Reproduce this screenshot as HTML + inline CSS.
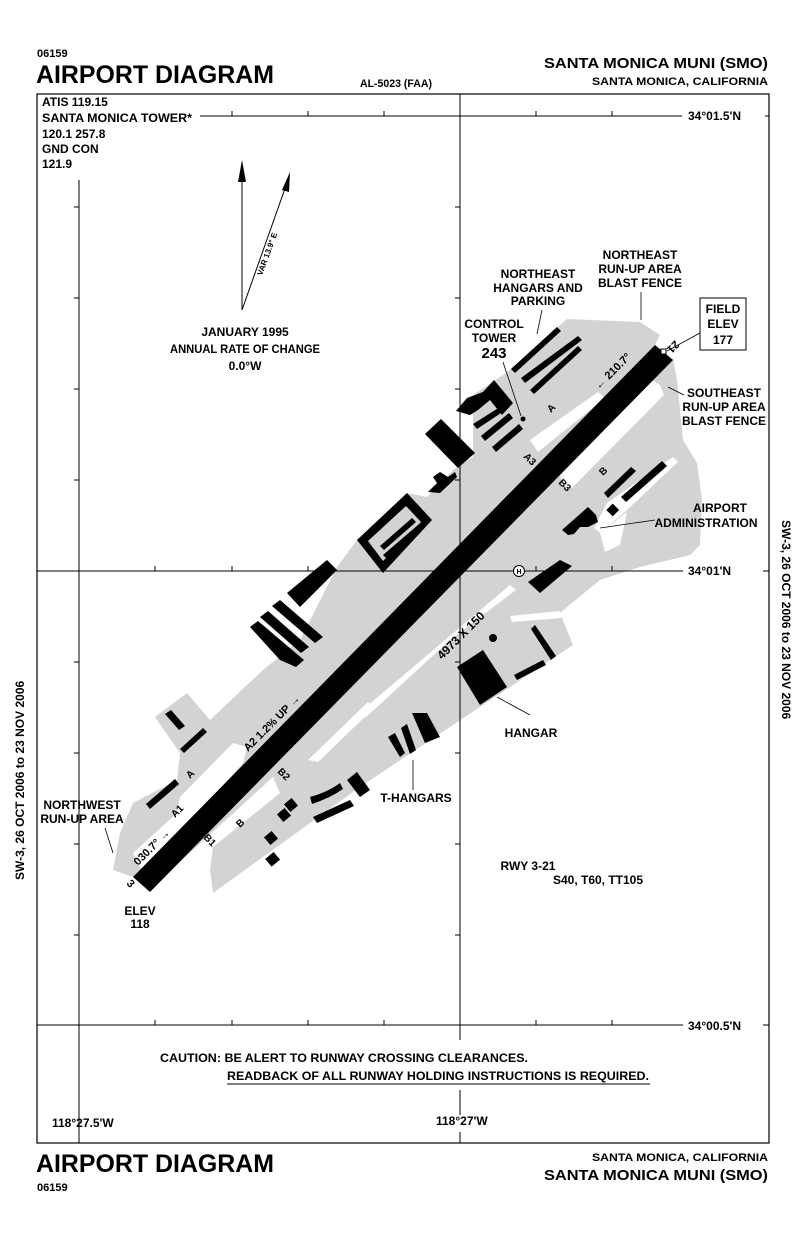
<!DOCTYPE html>
<html><head><meta charset="utf-8"><style>
html,body{margin:0;padding:0;background:#fff;}
svg{display:block;font-family:"Liberation Sans",sans-serif;}
text{fill:#000;}
.l{font-weight:bold;}
</style></head><body>
<svg width="806" height="1237" viewBox="0 0 806 1237" xmlns="http://www.w3.org/2000/svg">
<text x="37" y="57" font-size="11" class="l">06159</text>
<text x="36" y="83" font-size="25" class="l" textLength="238" lengthAdjust="spacingAndGlyphs">AIRPORT DIAGRAM</text>
<text x="360" y="87" font-size="11" class="l" textLength="72" lengthAdjust="spacingAndGlyphs">AL-5023 (FAA)</text>
<text x="768" y="68" font-size="15" class="l" text-anchor="end" textLength="224" lengthAdjust="spacingAndGlyphs">SANTA MONICA MUNI (SMO)</text>
<text x="768" y="85" font-size="11" class="l" text-anchor="end" textLength="176" lengthAdjust="spacingAndGlyphs">SANTA MONICA, CALIFORNIA</text>
<!-- grey areas -->
<polygon fill="#d3d3d3" points="640,322 567,319 506,373 473,395 473,457 453,470 427,497 407,493 357,540 337,567 300,640 263,670 210,720 187,693 155,717 180,753 177,780 133,803 120,833 113,870 133,877 655,345 660,335"/>
<polygon fill="#d3d3d3" points="673,358 677,380 683,440 697,463 702,500 700,545 690,555 640,567 600,580 567,607 560,613 573,645 360,787 213,893 210,870 150,892"/>
<!-- white gaps -->
<g fill="#fff">
<polygon points="560,475 652,380 660,385 664,395 572,488 564,486"/>
<polygon points="530,440 598,392 605,398 538,452"/>
<polygon points="607,503 673,457 678,462 627,510 600,533 594,528"/>
<polygon points="600,533 627,512 620,545 605,552"/>
<polygon points="510,585 516,590 450,640 365,718 360,712"/>
<polygon points="510,616 560,611 562,618 512,622"/>
<polygon points="368,702 374,708 318,762 308,760"/>
<polygon points="140,867 133,853 177,813 180,797 233,743 247,747 243,763 145,872"/>
<polygon points="150,892 213,893 210,870 213,847 280,793 273,777 180,862"/>
</g>
<!-- frame -->
<rect x="37" y="94" width="732" height="1049" fill="none" stroke="#000" stroke-width="1.2"/>
<g stroke="#000" stroke-width="1">
<line x1="460" y1="94" x2="460" y2="1143"/>
<line x1="79" y1="180" x2="79" y2="1143"/>
<line x1="37" y1="571" x2="769" y2="571"/>
<line x1="37" y1="1025" x2="769" y2="1025"/>
<line x1="200" y1="116" x2="682" y2="116"/>
<line x1="765" y1="116" x2="769" y2="116"/>
<line x1="232" y1="111" x2="232" y2="116"/><line x1="308" y1="111" x2="308" y2="116"/><line x1="384" y1="111" x2="384" y2="116"/>
<line x1="536" y1="111" x2="536" y2="116"/><line x1="612" y1="111" x2="612" y2="116"/>
<line x1="155" y1="1020" x2="155" y2="1025"/><line x1="232" y1="1020" x2="232" y2="1025"/><line x1="308" y1="1020" x2="308" y2="1025"/><line x1="384" y1="1020" x2="384" y2="1025"/>
<line x1="536" y1="1020" x2="536" y2="1025"/><line x1="612" y1="1020" x2="612" y2="1025"/>
<line x1="155" y1="566" x2="155" y2="571"/><line x1="232" y1="566" x2="232" y2="571"/><line x1="308" y1="566" x2="308" y2="571"/><line x1="384" y1="566" x2="384" y2="571"/>
<line x1="536" y1="566" x2="536" y2="571"/><line x1="612" y1="566" x2="612" y2="571"/><line x1="688" y1="566" x2="688" y2="571"/>
<line x1="74" y1="207" x2="79" y2="207"/><line x1="74" y1="298" x2="79" y2="298"/><line x1="74" y1="389" x2="79" y2="389"/><line x1="74" y1="480" x2="79" y2="480"/>
<line x1="74" y1="662" x2="79" y2="662"/><line x1="74" y1="753" x2="79" y2="753"/><line x1="74" y1="844" x2="79" y2="844"/><line x1="74" y1="935" x2="79" y2="935"/>
<line x1="455" y1="207" x2="460" y2="207"/><line x1="455" y1="298" x2="460" y2="298"/><line x1="455" y1="389" x2="460" y2="389"/><line x1="455" y1="480" x2="460" y2="480"/>
<line x1="455" y1="662" x2="460" y2="662"/><line x1="455" y1="753" x2="460" y2="753"/><line x1="455" y1="844" x2="460" y2="844"/><line x1="455" y1="935" x2="460" y2="935"/>
</g>
<rect x="150" y="1040" width="520" height="50" fill="#fff"/>
<rect x="440" y="1098" width="60" height="34" fill="#fff"/>
<line x1="460" y1="1090" x2="460" y2="1115" stroke="#000"/>
<g font-size="12" class="l">
<text x="42" y="106">ATIS 119.15</text>
<text x="42" y="122" textLength="150" lengthAdjust="spacingAndGlyphs">SANTA MONICA TOWER*</text>
<text x="42" y="138">120.1  257.8</text>
<text x="42" y="153">GND CON</text>
<text x="42" y="168">121.9</text>
</g>
<rect x="683" y="108" width="80" height="14" fill="#fff"/>
<text x="688" y="120" font-size="12" class="l">34°01.5'N</text>
<rect x="683" y="563" width="80" height="14" fill="#fff"/>
<text x="688" y="575" font-size="12" class="l">34°01'N</text>
<rect x="683" y="1017" width="80" height="14" fill="#fff"/>
<text x="688" y="1030" font-size="12" class="l">34°00.5'N</text>
<text x="52" y="1127" font-size="12" class="l">118°27.5'W</text>
<text x="436" y="1125" font-size="12" class="l">118°27'W</text>
<text x="160" y="1062" font-size="12" class="l" textLength="368" lengthAdjust="spacingAndGlyphs">CAUTION: BE ALERT TO RUNWAY CROSSING CLEARANCES.</text>
<text x="227" y="1080" font-size="12" class="l" textLength="422" lengthAdjust="spacingAndGlyphs">READBACK OF ALL RUNWAY HOLDING INSTRUCTIONS IS REQUIRED.</text>
<line x1="227" y1="1084" x2="650" y2="1084" stroke="#000"/>
<text transform="translate(24,880) rotate(-90)" font-size="12" font-weight="bold">SW-3, 26 OCT 2006 to 23 NOV 2006</text>
<text transform="translate(782,520) rotate(90)" font-size="12" font-weight="bold">SW-3, 26 OCT 2006 to 23 NOV 2006</text>
<text x="36" y="1172" font-size="25" class="l" textLength="238" lengthAdjust="spacingAndGlyphs">AIRPORT DIAGRAM</text>
<text x="37" y="1191" font-size="11" class="l">06159</text>
<text x="768" y="1161" font-size="11" class="l" text-anchor="end" textLength="176" lengthAdjust="spacingAndGlyphs">SANTA MONICA, CALIFORNIA</text>
<text x="768" y="1180" font-size="15" class="l" text-anchor="end" textLength="224" lengthAdjust="spacingAndGlyphs">SANTA MONICA MUNI (SMO)</text>
<!-- north arrows -->
<line x1="242" y1="180" x2="242" y2="310" stroke="#000"/>
<polygon points="242,160 238,182 246,182" fill="#000"/>
<line x1="242" y1="310" x2="288" y2="180" stroke="#000"/>
<polygon points="290,172 282,190 289,192" fill="#000"/>
<text transform="translate(262,276) rotate(-70)" font-size="8" class="l">VAR 13.9° E</text>
<g font-size="12" class="l" text-anchor="middle">
<text x="245" y="336">JANUARY 1995</text>
<text x="245" y="353" textLength="150" lengthAdjust="spacingAndGlyphs">ANNUAL RATE OF CHANGE</text>
<text x="245" y="370">0.0°W</text>
</g>
<!-- runway -->
<polygon fill="#000" points="133,877 655,345 673,360 150,892"/>
<rect x="661" y="349" width="5" height="5" fill="#fff" stroke="#000"/>
<!-- buildings -->
<g fill="#000">
<polygon points="511,369 557,327 561,331 515,373"/>
<polygon points="521,378 578,336 582,340 525,383"/>
<polygon points="530,390 578,346 582,350 534,394"/>
<polygon points="456,411 467,398 483,392 494,380 513,403 502,415 490,400 478,410 470,415"/>
<polygon points="473,424 500,407 504,411 477,429"/>
<polygon points="481,436 509,413 513,418 485,441"/>
<polygon points="492,447 519,424 523,429 496,452"/>
<polygon points="425,434 441,419 475,453 458,468"/>
<polygon points="428,492 437,483 433,477 440,472 448,477 455,472 457,477 440,493"/>
<polygon points="357,540 407,493 432,520 383,573"/>
<polygon points="287,593 327,560 337,570 300,607"/>
<polygon points="272,606 280,600 323,637 315,643"/>
<polygon points="260,617 268,611 309,647 301,653"/>
<polygon points="250,627 258,621 304,660 296,667 280,660"/>
<polygon points="165,714 171,710 185,726 179,730"/>
<polygon points="180,749 203,728 207,732 184,753"/>
<polygon points="146,804 175,779 179,784 150,809"/>
<polygon points="604,493 631,467 636,471 608,498"/>
<polygon points="621,497 662,461 667,466 626,502"/>
<rect x="608" y="506" width="9" height="9" transform="rotate(-45 612 510)"/>
<polygon points="562,530 588,507 596,515 598,522 588,527 580,527 574,534 568,535"/>
<polygon points="528,582 560,560 572,566 540,593"/>
<polygon points="457,667 483,650 507,687 480,705"/>
<polygon points="531,629 535,625 556,656 551,660"/>
<polygon points="514,675 543,660 546,665 517,680"/>
<circle cx="493" cy="638" r="4"/>
<polygon points="388,737 395,733 405,753 400,757"/>
<polygon points="401,728 407,724 416,750 410,754"/>
<polygon points="412,713 427,713 440,737 425,743"/>
<path d="M310,797 Q328,792 340,783 L343,789 Q330,798 312,804 Z"/>
<polygon points="313,817 350,800 354,806 317,823"/>
<polygon points="347,780 357,772 370,790 360,797"/>
<rect x="286" y="800" width="10" height="10" transform="rotate(-40 291 805)"/>
<rect x="279" y="810" width="10" height="10" transform="rotate(-40 284 815)"/>
<rect x="266" y="833" width="10" height="10" transform="rotate(-40 271 838)"/>
<rect x="267" y="854" width="11" height="10" transform="rotate(-40 273 859)"/>
<circle cx="523" cy="419" r="2.5"/>
</g>
<polygon fill="#d3d3d3" points="368,541 406,506 421,522 383,561"/>
<g fill="#000">
<polygon points="380,546 412,518 416,522 384,550"/>
<polygon points="383,555 418,525 422,529 387,559"/>
</g>
<!-- runway labels -->
<text transform="translate(442,660) rotate(-45)" font-size="12" class="l">4973 X 150</text>
<text transform="translate(248,752) rotate(-45)" font-size="11" class="l">A2  1.2% UP →</text>
<text transform="translate(138,866) rotate(-45)" font-size="11" class="l">030.7° →</text>
<text transform="translate(599,390) rotate(-45)" font-size="11" class="l">← 210.7°</text>
<text transform="translate(675,340) rotate(135)" font-size="11" class="l">21</text>
<text transform="translate(126,884) rotate(45)" font-size="11" class="l">3</text>
<g font-size="10" class="l">
<text transform="translate(551,413) rotate(-45)">A</text>
<text transform="translate(523,457) rotate(45)">A3</text>
<text transform="translate(558,483) rotate(45)">B3</text>
<text transform="translate(603,476) rotate(-45)">B</text>
<text transform="translate(277,772) rotate(45)">B2</text>
<text transform="translate(190,779) rotate(-45)">A</text>
<text transform="translate(175,818) rotate(-45)">A1</text>
<text transform="translate(203,838) rotate(45)">B1</text>
<text transform="translate(240,828) rotate(-45)">B</text>
</g>
<circle cx="519" cy="571" r="5.5" fill="#fff" stroke="#000"/>
<text x="519" y="574" font-size="7" text-anchor="middle" class="l">H</text>
<g font-size="12" text-anchor="middle" class="l">
<text x="494" y="328">CONTROL</text><text x="494" y="342">TOWER</text>
<text x="494" y="358" font-size="15">243</text>
<text x="538" y="278">NORTHEAST</text><text x="538" y="292">HANGARS AND</text><text x="538" y="305">PARKING</text>
<text x="640" y="259">NORTHEAST</text><text x="640" y="273">RUN-UP AREA</text><text x="640" y="287">BLAST FENCE</text>
<text x="724" y="397">SOUTHEAST</text><text x="724" y="411">RUN-UP AREA</text><text x="724" y="425">BLAST FENCE</text>
<text x="720" y="512">AIRPORT</text><text x="706" y="527">ADMINISTRATION</text>
<text x="82" y="809">NORTHWEST</text><text x="82" y="823">RUN-UP AREA</text>
<text x="140" y="915">ELEV</text><text x="140" y="928">118</text>
<text x="531" y="737">HANGAR</text>
<text x="416" y="802">T-HANGARS</text>
<text x="528" y="870">RWY 3-21</text>
<text x="598" y="884">S40, T60,  TT105</text>
</g>
<rect x="700" y="298" width="46" height="52" fill="#fff" stroke="#000"/>
<g font-size="12" text-anchor="middle" class="l">
<text x="723" y="313">FIELD</text>
<text x="723" y="328">ELEV</text>
<text x="723" y="344">177</text>
</g>
<g stroke="#000" fill="none" stroke-width="0.8">
<line x1="700" y1="333" x2="667" y2="351"/>
<line x1="503" y1="362" x2="521" y2="416"/>
<line x1="542" y1="310" x2="537" y2="334"/>
<line x1="641" y1="292" x2="641" y2="320"/>
<line x1="684" y1="395" x2="668" y2="387"/>
<line x1="655" y1="520" x2="600" y2="528"/>
<line x1="105" y1="828" x2="113" y2="853"/>
<line x1="530" y1="715" x2="497" y2="697"/>
<line x1="413" y1="790" x2="413" y2="760"/>
</g>
</svg>
</body></html>
